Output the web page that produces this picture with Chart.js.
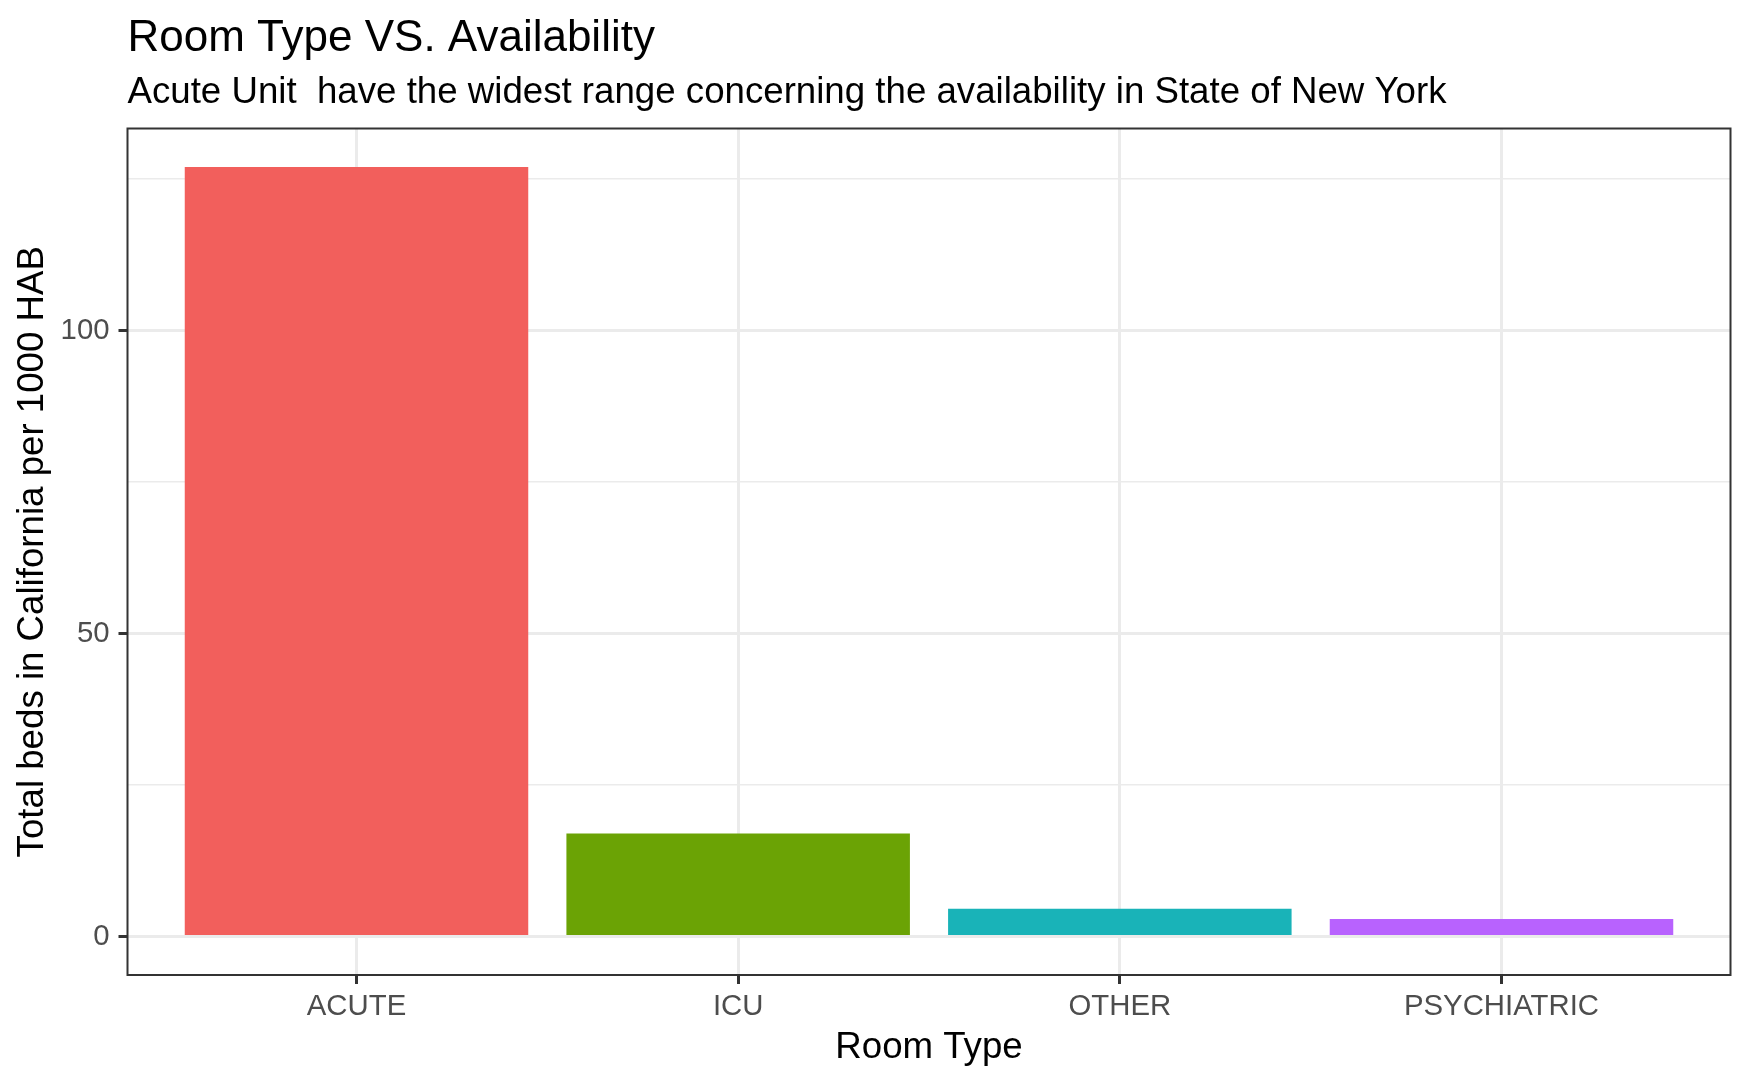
<!DOCTYPE html>
<html>
<head>
<meta charset="utf-8">
<script src="https://cdn.jsdelivr.net/npm/chart.js@4.4.1/dist/chart.umd.min.js"></script>
<style>
  html, body { margin: 0; padding: 0; background: #ffffff; }
  #wrap { width: 1750px; height: 1081px; }
</style>
</head>
<body>
<div id="wrap"><canvas id="roomChart" width="1750" height="1081"></canvas></div>
<script>
const roomTypes = ['ACUTE', 'ICU', 'OTHER', 'PSYCHIATRIC'];
const bedsPer1000 = [127.0, 17.0, 4.6, 2.9];
const barColors = ['#F25F5C', '#6BA305', '#19B3B8', '#B862FE'];
const yTicks = [0, 25, 50, 75, 100, 125];
const yLabelTicks = [0, 50, 100];

const FONT = '"Liberation Sans", Arial, Helvetica, sans-serif';

// ggplot-like panel border drawn around the plotting area
const panelBorder = {
  id: 'panelBorder',
  afterDatasetsDraw(chart) {
    const { ctx, chartArea } = chart;
    ctx.save();
    ctx.strokeStyle = '#333333';
    ctx.lineWidth = 2;
    ctx.strokeRect(chartArea.left, chartArea.top, chartArea.right - chartArea.left, chartArea.bottom - chartArea.top);
    ctx.restore();
  },
};

const isMajor = (v) => yLabelTicks.includes(v);

new Chart(document.getElementById('roomChart'), {
  type: 'bar',
  data: {
    datasets: [{
      data: roomTypes.map((name, i) => ({ x: i + 1, y: bedsPer1000[i] })),
      backgroundColor: barColors,
      borderWidth: 0,
      barPercentage: 0.9,
      categoryPercentage: 1,
    }],
  },
  plugins: [panelBorder],
  options: {
    responsive: false,
    animation: false,
    layout: { padding: { left: 0, right: 19.5, top: 0, bottom: 0 } },
    plugins: {
      legend: { display: false },
      tooltip: { enabled: false },
      title: {
        display: true,
        text: 'Room Type VS. Availability',
        align: 'start',
        fullSize: false,
        color: '#000000',
        font: { family: FONT, size: 44, weight: 'normal' },
        padding: { top: 12, bottom: 0 },
      },
      subtitle: {
        display: true,
        text: 'Acute Unit  have the widest range concerning the availability in State of New York',
        align: 'start',
        fullSize: false,
        color: '#000000',
        font: { family: FONT, size: 36.67, weight: 'normal' },
        padding: { top: 6, bottom: 13.7 },
      },
    },
    scales: {
      x: {
        type: 'linear',
        min: 0.4,
        max: 4.6,
        offset: false,
        afterBuildTicks: (scale) => {
          scale.ticks = roomTypes.map((name, i) => ({ value: i + 1 }));
        },
        afterFit: (scale) => { scale.height = 106; },
        ticks: {
          autoSkip: false,
          maxRotation: 0,
          padding: 5,
          color: '#4D4D4D',
          font: { family: FONT, size: 29.33 },
          callback: (value) => roomTypes[value - 1] || '',
        },
        grid: {
          offset: false,
          color: '#EBEBEB',
          lineWidth: 3,
          drawTicks: true,
          tickLength: 9,
          tickColor: '#333333',
          tickWidth: 3,
        },
        border: { display: false },
        title: {
          display: true,
          text: 'Room Type',
          color: '#000000',
          font: { family: FONT, size: 36.67 },
          padding: { top: 0, bottom: 11.5 },
        },
      },
      y: {
        type: 'linear',
        min: -6.35,
        max: 133.35,
        afterBuildTicks: (scale) => {
          scale.ticks = yTicks.map((v) => ({ value: v }));
        },
        afterFit: (scale) => { scale.width = 127.5; },
        ticks: {
          padding: 9,
          color: '#4D4D4D',
          font: { family: FONT, size: 29.33 },
          callback: (value) => (isMajor(value) ? String(value) : ''),
        },
        grid: {
          color: '#EBEBEB',
          lineWidth: (ctx) => (ctx.tick && isMajor(ctx.tick.value) ? 3 : 1.5),
          drawTicks: true,
          tickLength: 9,
          tickColor: (ctx) => (ctx.tick && isMajor(ctx.tick.value) ? '#333333' : 'rgba(0,0,0,0)'),
          tickWidth: 3,
        },
        border: { display: false },
        title: {
          display: true,
          text: 'Total beds in California per 1000 HAB',
          color: '#000000',
          font: { family: FONT, size: 36.67 },
          padding: { top: 11, bottom: 0 },
        },
      },
    },
  },
});
</script>
</body>
</html>
